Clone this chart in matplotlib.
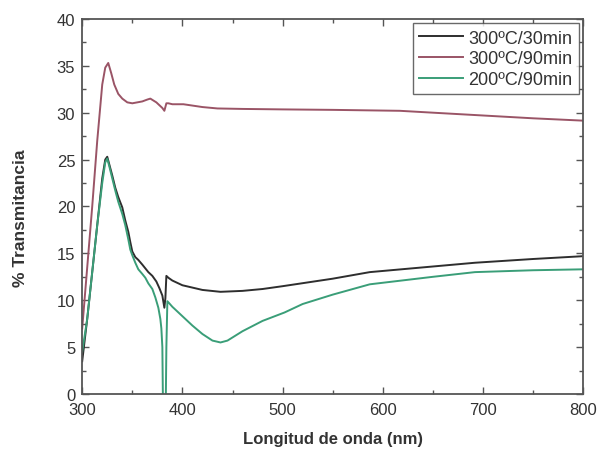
import matplotlib
matplotlib.use("Agg")
import matplotlib.pyplot as plt
from matplotlib.ticker import MultipleLocator

plt.rcParams['font.family'] = ['Liberation Sans', 'DejaVu Sans']

labels = ["300ºC/30min", "300ºC/90min", "200ºC/90min"]
colors = ["#2e2e2e", "#9a5466", "#3a9e78"]

wl_300_30 = [300, 305, 310, 315, 320, 323, 325, 327, 330, 333, 336, 340, 343, 346, 348,
             350, 353, 356, 360, 363, 366, 370, 374, 377, 380, 382, 383, 384, 386, 390,
             400, 420, 438, 460, 480, 500, 550, 587, 650, 692, 750, 800]
t_300_30 = [3.5, 8, 13, 18, 23, 25.0, 25.3, 24.5, 23.3, 22.0, 21.0, 19.9, 18.5, 17.3, 16.2,
            15.2, 14.6, 14.3, 13.8, 13.4, 13.0, 12.6, 12.0, 11.3, 10.5, 9.2, 10.2, 12.6, 12.4, 12.1,
            11.6, 11.1, 10.9, 11.0, 11.2, 11.5, 12.3, 13.0, 13.6, 14.0, 14.4, 14.7]

wl_300_90 = [300, 305, 310, 315, 320, 323, 326, 329, 332, 336, 340, 345, 350, 355, 360,
             365, 368, 371, 374, 377, 380, 382, 384, 386, 390, 401, 420, 435, 460, 500,
             550, 617, 650, 700, 750, 800]
t_300_90 = [7.0, 13.5, 20, 27, 33, 34.8, 35.3, 34.2, 33.0, 32.0, 31.5, 31.1, 31.0, 31.1, 31.2,
            31.4, 31.5, 31.3, 31.1, 30.8, 30.5, 30.2, 31.0, 31.0, 30.9, 30.9, 30.6, 30.45, 30.4, 30.35,
            30.3, 30.2, 30.0, 29.7, 29.4, 29.15]

wl_200_90 = [300, 305, 310, 315, 320, 323, 325, 327, 330, 333, 336, 340, 343, 346, 348,
             350, 353, 356, 360, 363, 366, 370, 373, 376, 378, 379, 380, 381, 382, 383,
             384, 385, 390, 400, 410, 420, 430, 438, 445, 460, 480, 502, 520, 550, 587,
             650, 692, 750, 800]
t_200_90 = [4.5, 8, 13, 18, 22.5, 24.7, 25.1, 24.3, 23.0, 21.7, 20.5, 19.2, 18.0, 16.5, 15.4,
            14.8, 14.0, 13.3, 12.8, 12.4, 11.8, 11.2, 10.3, 9.2, 8.0, 7.0, 5.0, -5, -5, -5,
            5.0, 9.9, 9.3, 8.3, 7.3, 6.4, 5.7, 5.5, 5.7, 6.7, 7.8, 8.7, 9.6, 10.6, 11.7,
            12.5, 13.0, 13.2, 13.3]

fig = plt.figure(figsize=(6.0, 4.52), dpi=100)
ax = fig.add_axes([0.137, 0.126, 0.835, 0.830])

ax.plot(wl_300_30, t_300_30, color=colors[0], lw=1.4, label=labels[0])
ax.plot(wl_300_90, t_300_90, color=colors[1], lw=1.4, label=labels[1])
ax.plot(wl_200_90, t_200_90, color=colors[2], lw=1.4, label=labels[2])

ax.set_xlim(300, 800)
ax.set_ylim(0, 40)
ax.xaxis.set_major_locator(MultipleLocator(100))
ax.xaxis.set_minor_locator(MultipleLocator(50))
ax.yaxis.set_major_locator(MultipleLocator(5))
ax.yaxis.set_minor_locator(MultipleLocator(2.5))
ax.tick_params(which='both', direction='in', top=True, right=True, colors='#555555',
               labelcolor='#333333', labelsize=12)
ax.tick_params(which='major', length=5, width=1)
ax.tick_params(axis='x', which='major', pad=6)
ax.tick_params(axis='y', which='major', pad=5)
ax.tick_params(which='minor', length=3, width=1)
for s in ax.spines.values():
    s.set_color('#555555')
    s.set_linewidth(1.3)

ax.set_xlabel("Longitud de onda (nm)", fontsize=12, fontweight='bold', color='#333333', labelpad=10)
ax.set_ylabel("% Transmitancia", fontsize=12.5, fontweight='bold', color='#333333')
ax.yaxis.set_label_coords(-0.108, 0.47)

leg = ax.legend(loc='upper right', fontsize=13, frameon=True, fancybox=False,
                edgecolor='#444444', handlelength=2.4, handletextpad=0.3,
                borderaxespad=0.25, labelspacing=0.2, borderpad=0.35, labelcolor='#333333')
leg.get_frame().set_linewidth(1.0)

fig.savefig("out.png", dpi=100)
